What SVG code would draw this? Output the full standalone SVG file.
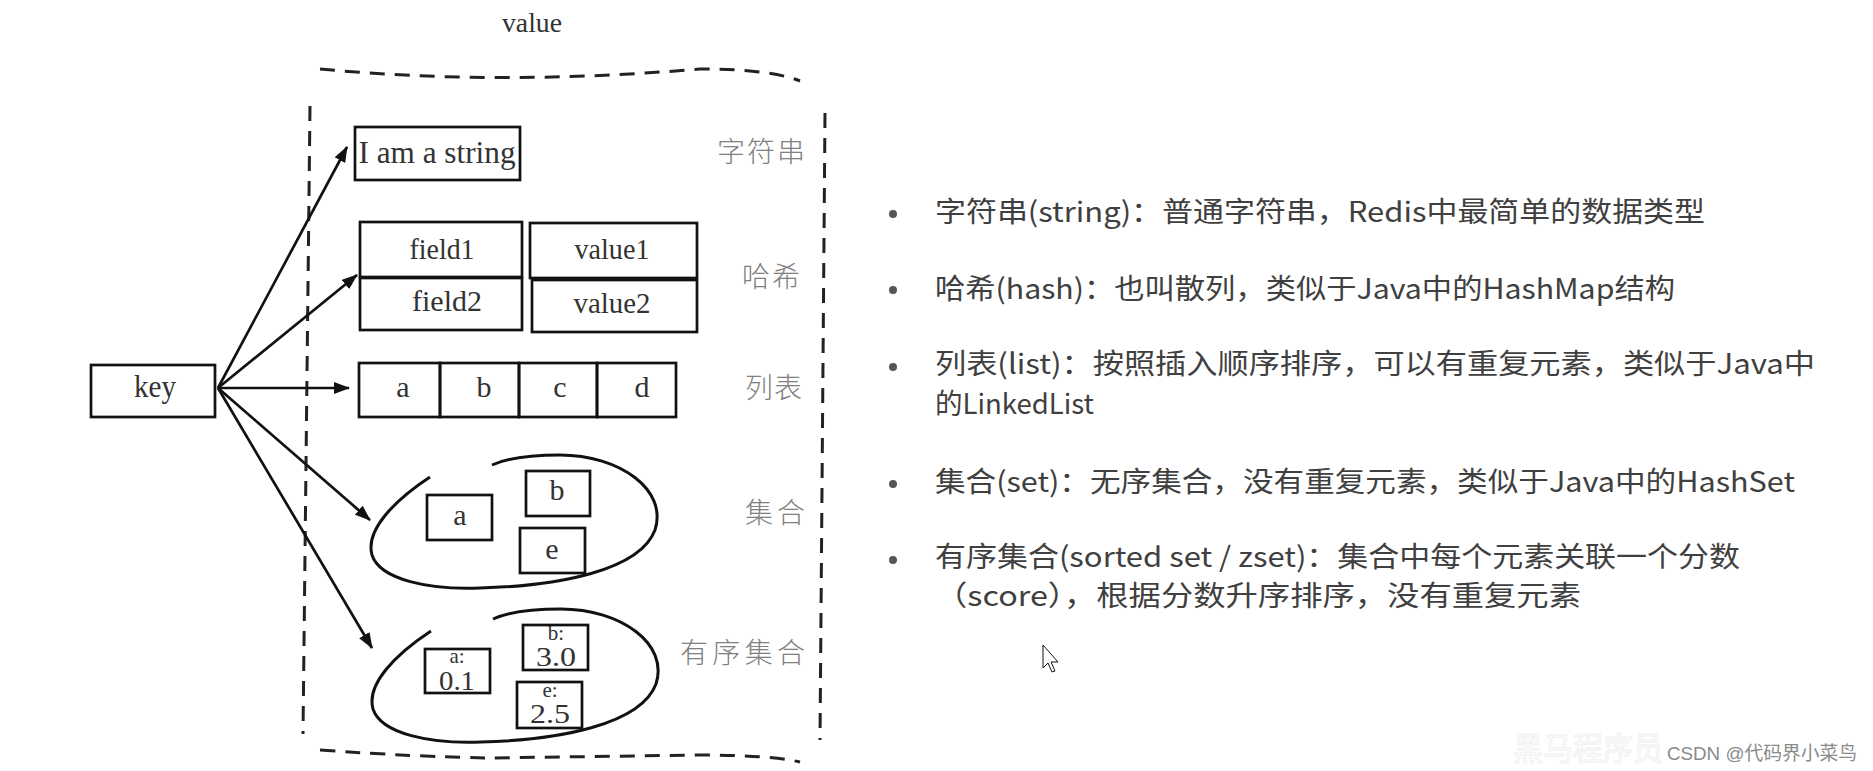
<svg xmlns="http://www.w3.org/2000/svg" width="1873" height="771" viewBox="0 0 1873 771">
<style>
.bx{fill:none;stroke:#111;stroke-width:2.7}
.dash{fill:none;stroke:#222;stroke-width:3;stroke-dasharray:15 10}
.sr{font-family:"Liberation Serif","DejaVu Serif",serif;fill:#333;text-anchor:middle}
.lab{font-family:"Noto Sans CJK SC",sans-serif;font-size:28px;fill:#808080;font-weight:300}
.txt{font-family:"Noto Sans CJK SC","Noto Sans",sans-serif;font-size:28px;fill:#404040}
.bul{fill:#555}
.conn{stroke:#111;stroke-width:2.7;fill:none;marker-end:url(#ah)}
.blob{fill:none;stroke:#111;stroke-width:3}
</style>
<defs>
<marker id="ah" viewBox="0 0 16 12" refX="15" refY="6" markerWidth="16" markerHeight="12" markerUnits="userSpaceOnUse" orient="auto">
<path d="M0,0 L16,6 L0,12 z" fill="#111"/>
</marker>
<path id="blobp" d="M430,477 C395,500 365,530 372,555 C380,580 430,590 480,588 C560,586 640,570 655,530 C668,490 620,455 560,455 C530,455 505,459 492,465"/>
</defs>
<rect width="1873" height="771" fill="#fff"/>

<g id="value-frame">
<text class="sr" x="532" y="32" font-size="27" textLength="60" lengthAdjust="spacingAndGlyphs">value</text>
<path class="dash" d="M320,69 Q500,86 700,69 Q770,69 800,81"/>
<path class="dash" d="M310,106 L303,734"/>
<path class="dash" d="M825,113 L820,740"/>
<path class="dash" d="M320,750 Q420,757 490,758 L700,755 Q770,755 800,762"/>
</g>

<g id="key">
<rect class="bx" x="91" y="365" width="124" height="52"/>
<text class="sr" x="155" y="397" font-size="31" textLength="42" lengthAdjust="spacingAndGlyphs">key</text>
</g>

<g id="string">
<rect class="bx" x="355" y="127" width="165" height="53"/>
<text class="sr" x="437" y="163" font-size="32" textLength="157" lengthAdjust="spacingAndGlyphs">I am a string</text>
<text class="lab" x="717" y="162" textLength="88">字符串</text>
</g>

<g id="hash">
<rect class="bx" x="360" y="222" width="162" height="55"/>
<rect class="bx" x="530" y="223" width="167" height="55"/>
<rect class="bx" x="360" y="278" width="162" height="52"/>
<rect class="bx" x="532" y="280" width="165" height="52"/>
<text class="sr" x="442" y="259" font-size="30" textLength="65" lengthAdjust="spacingAndGlyphs">field1</text>
<text class="sr" x="612" y="259" font-size="30" textLength="75" lengthAdjust="spacingAndGlyphs">value1</text>
<text class="sr" x="447" y="311" font-size="30" textLength="70" lengthAdjust="spacingAndGlyphs">field2</text>
<text class="sr" x="612" y="313" font-size="30" textLength="77" lengthAdjust="spacingAndGlyphs">value2</text>
<text class="lab" x="742" y="287" textLength="58">哈希</text>
</g>

<g id="list">
<rect class="bx" x="359" y="363" width="81" height="54"/>
<rect class="bx" x="440" y="363" width="79" height="54"/>
<rect class="bx" x="519" y="363" width="78" height="54"/>
<rect class="bx" x="597" y="363" width="79" height="54"/>
<text class="sr" x="403" y="397" font-size="30">a</text>
<text class="sr" x="484" y="397" font-size="30">b</text>
<text class="sr" x="560" y="397" font-size="30">c</text>
<text class="sr" x="642" y="397" font-size="30">d</text>
<text class="lab" x="745" y="398" textLength="57">列表</text>
</g>

<g id="set">
<use href="#blobp" class="blob"/>
<rect class="bx" x="427" y="495" width="65" height="45"/>
<rect class="bx" x="526" y="471" width="64" height="45"/>
<rect class="bx" x="520" y="528" width="65" height="45"/>
<text class="sr" x="460" y="525" font-size="30">a</text>
<text class="sr" x="557" y="500" font-size="30">b</text>
<text class="sr" x="552" y="559" font-size="30">e</text>
<text class="lab" x="745" y="523" textLength="60">集合</text>
</g>

<g id="zset">
<use href="#blobp" class="blob" transform="translate(1,154)"/>
<rect class="bx" x="425" y="649" width="65" height="44"/>
<rect class="bx" x="523" y="625" width="65" height="45"/>
<rect class="bx" x="517" y="682" width="65" height="46"/>
<text class="sr" x="457" y="663" font-size="21">a:</text>
<text class="sr" x="457" y="690" font-size="27" textLength="36" lengthAdjust="spacingAndGlyphs">0.1</text>
<text class="sr" x="556" y="640" font-size="21">b:</text>
<text class="sr" x="556" y="666" font-size="27" textLength="40" lengthAdjust="spacingAndGlyphs">3.0</text>
<text class="sr" x="550" y="697" font-size="21">e:</text>
<text class="sr" x="550" y="723" font-size="27" textLength="40" lengthAdjust="spacingAndGlyphs">2.5</text>
<text class="lab" x="680" y="663" textLength="125">有序集合</text>
</g>

<g id="connectors">
<line class="conn" x1="218" y1="388" x2="347" y2="147"/>
<line class="conn" x1="218" y1="388" x2="357" y2="275"/>
<line class="conn" x1="218" y1="388" x2="349" y2="388"/>
<line class="conn" x1="218" y1="388" x2="370" y2="520"/>
<line class="conn" x1="218" y1="388" x2="372" y2="648"/>
</g>

<g id="notes">
<circle class="bul" cx="893" cy="214" r="4"/>
<circle class="bul" cx="893" cy="290" r="4"/>
<circle class="bul" cx="893" cy="367" r="4"/>
<circle class="bul" cx="893" cy="484" r="4"/>
<circle class="bul" cx="893" cy="560" r="4"/>
<text class="txt" x="935" y="222" textLength="770" lengthAdjust="spacingAndGlyphs">字符串(string)：普通字符串，Redis中最简单的数据类型</text>
<text class="txt" x="935" y="299" textLength="740" lengthAdjust="spacingAndGlyphs">哈希(hash)：也叫散列，类似于Java中的HashMap结构</text>
<text class="txt" x="935" y="374" textLength="880" lengthAdjust="spacingAndGlyphs">列表(list)：按照插入顺序排序，可以有重复元素，类似于Java中</text>
<text class="txt" x="935" y="414" textLength="159" lengthAdjust="spacingAndGlyphs">的LinkedList</text>
<text class="txt" x="935" y="492" textLength="860" lengthAdjust="spacingAndGlyphs">集合(set)：无序集合，没有重复元素，类似于Java中的HashSet</text>
<text class="txt" x="935" y="567" textLength="805" lengthAdjust="spacingAndGlyphs">有序集合(sorted set / zset)：集合中每个元素关联一个分数</text>
<text class="txt" x="935" y="606" textLength="646" lengthAdjust="spacingAndGlyphs">（score），根据分数升序排序，没有重复元素</text>
</g>

<g id="cursor">
<path d="M1043,645 L1043,668 L1048,663 L1052,672 L1055,671 L1051,662 L1058,662 Z" fill="#fff" stroke="#111" stroke-width="1"/>
</g>

<g id="watermark">
<text x="1513" y="760" font-family="Noto Sans CJK SC,sans-serif" font-size="32" fill="#fefefe" stroke="#f0f0f0" stroke-width="1" textLength="150" lengthAdjust="spacingAndGlyphs">黑马程序员</text>
<text x="1667" y="760" font-family="Liberation Sans,Noto Sans CJK SC,sans-serif" font-size="19" fill="#8a8a8a" textLength="190" lengthAdjust="spacingAndGlyphs">CSDN @代码界小菜鸟</text>
</g>
</svg>
